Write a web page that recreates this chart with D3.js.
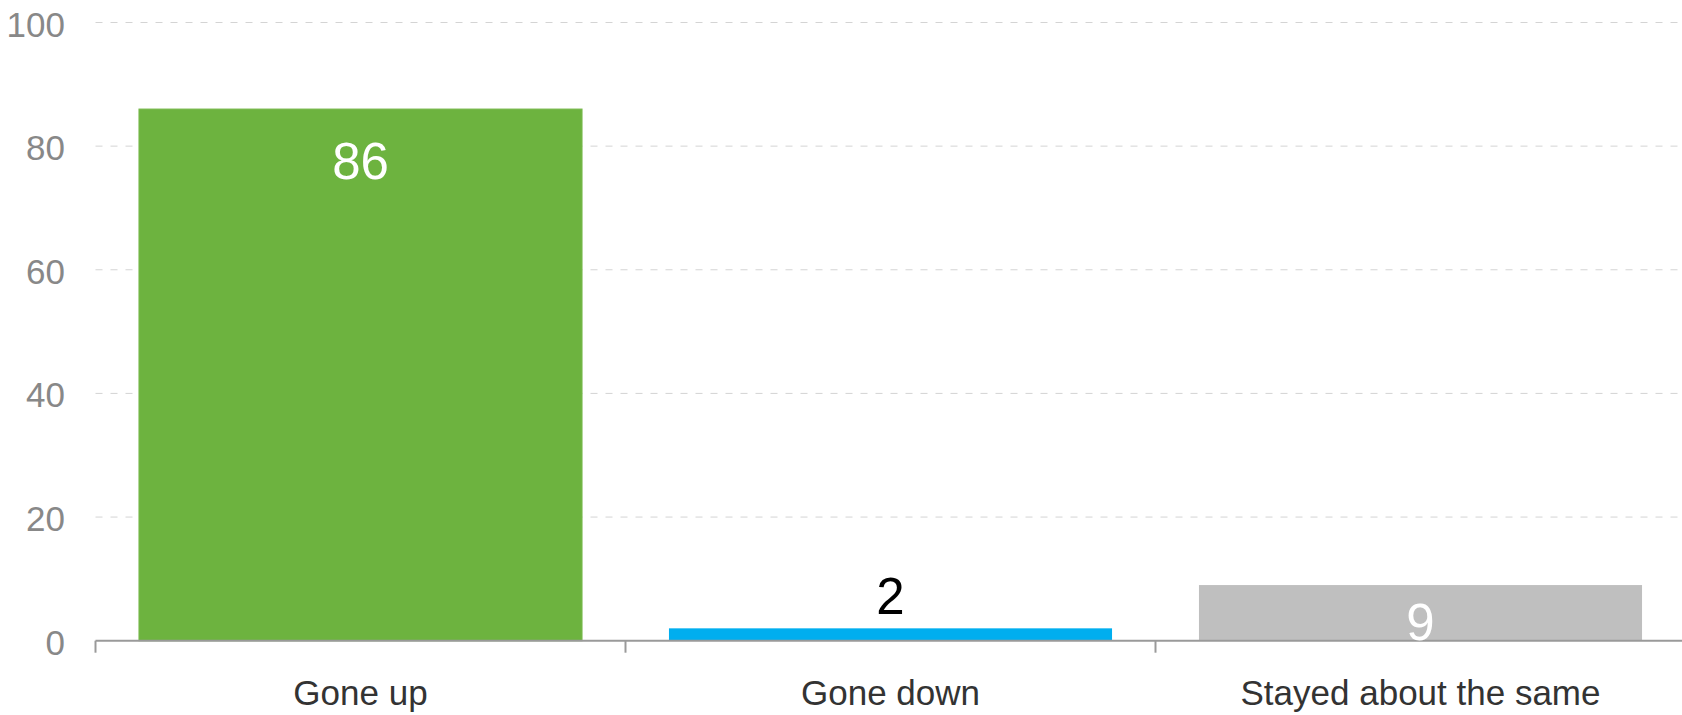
<!DOCTYPE html>
<html>
<head>
<meta charset="utf-8">
<script src="https://cdn.jsdelivr.net/npm/d3@7"></script>
<style>
  html, body { margin: 0; padding: 0; background: #fff; }
  svg { display: block; font-family: "Liberation Sans", Arial, Helvetica, sans-serif; }
</style>
</head>
<body>
<svg id="chart" width="1682" height="715"></svg>
<script>
const categories = ["Gone up", "Gone down", "Stayed about the same"];
const values = [86, 2, 9];
const barColors = ["#6db33f", "#00aeef", "#bfbfbf"];
const labelColors = ["#ffffff", "#000000", "#ffffff"];
const yTicks = [0, 20, 40, 60, 80, 100];

const svg = d3.select("#chart");
const W = 1682, H = 715;
const left = 95.5, right = 1685.5;
const y0 = 640.7, yTop = 22.5;

const x = d3.scaleBand().domain(categories).range([left, right]).paddingInner(0.164).paddingOuter(0.082);
const y = d3.scaleLinear().domain([0, 100]).range([y0, yTop]);

// gridlines
svg.append("g").selectAll("line").data(yTicks.filter(d => d > 0)).join("line")
  .attr("x1", left).attr("x2", W)
  .attr("y1", d => y(d)).attr("y2", d => y(d))
  .attr("stroke", "#d4d4d4").attr("stroke-width", 1)
  .attr("stroke-dasharray", "7,8");

// y tick labels
svg.append("g").selectAll("text").data(yTicks).join("text")
  .attr("x", 65).attr("y", d => y(d) + 14)
  .attr("text-anchor", "end").attr("fill", "#888888")
  .attr("font-size", 35).text(d => d);

// bars
svg.append("g").selectAll("rect").data(values).join("rect")
  .attr("x", (d, i) => x(categories[i]))
  .attr("width", x.bandwidth())
  .attr("y", d => y(d))
  .attr("height", d => y(0) - y(d))
  .attr("fill", (d, i) => barColors[i])
  .attr("stroke", (d, i) => i === 0 ? "#79b94e" : "none")
  .attr("stroke-width", 1);

// x axis line and ticks at band boundaries
const ax = svg.append("g");
ax.append("line").attr("x1", left).attr("x2", W).attr("y1", y0).attr("y2", y0)
  .attr("stroke", "#9a9a9a").attr("stroke-width", 2);
const bounds = d3.range(categories.length).map(i => left + i * x.step());
ax.selectAll("line.tick").data(bounds).join("line").attr("class", "tick")
  .attr("x1", d => d).attr("x2", d => d).attr("y1", y0).attr("y2", y0 + 12)
  .attr("stroke", "#9a9a9a").attr("stroke-width", 2);

// category labels
svg.append("g").selectAll("text").data(categories).join("text")
  .attr("x", d => x(d) + x.bandwidth() / 2).attr("y", 705)
  .attr("text-anchor", "middle").attr("fill", "#333333")
  .attr("font-size", 35).text(d => d);

// value labels
svg.append("g").selectAll("text").data(values).join("text")
  .attr("x", (d, i) => x(categories[i]) + x.bandwidth() / 2)
  .attr("y", d => {
    const h = y(0) - y(d);
    if (h > 100) return y(d) + 70;
    if (h > 40) return y(0) - 1;
    return y(d) - 14;
  })
  .attr("text-anchor", "middle")
  .attr("fill", (d, i) => labelColors[i])
  .attr("font-size", 51).text(d => d);
</script>
</body>
</html>
